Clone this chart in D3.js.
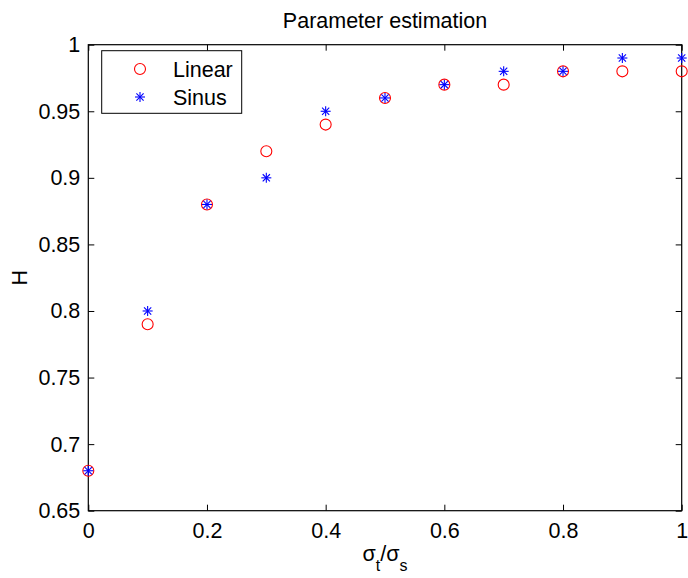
<!DOCTYPE html>
<html>
<head>
<meta charset="utf-8">
<script src="https://cdn.jsdelivr.net/npm/d3@7"></script>
<style>
  body { margin: 0; background: #fff; }
  text { font-family: "Liberation Sans", Arial, sans-serif; fill: #000; }
</style>
</head>
<body>
<div id="chart"></div>
<script>
// datos
var xVals = [0, 0.1, 0.2, 0.3, 0.4, 0.5, 0.6, 0.7, 0.8, 0.9, 1.0];
var linearVals = [0.68, 0.79, 0.88, 0.92, 0.94, 0.96, 0.97, 0.97, 0.98, 0.98, 0.98];
var sinusVals = [0.68, 0.80, 0.88, 0.90, 0.95, 0.96, 0.97, 0.98, 0.98, 0.99, 0.99];
var xTicks = [0, 0.2, 0.4, 0.6, 0.8, 1];
var yTicks = [0.65, 0.7, 0.75, 0.8, 0.85, 0.9, 0.95, 1];
var seriesNames = ["Linear", "Sinus"];

var w = 688, h = 578;
var mLeft = 88.3, mRight = 681.7, mTop = 44.7, mBottom = 510.7;
var fs = 21.5;

var svg = d3.select("#chart").append("svg")
    .attr("width", w)
    .attr("height", h);

var x = d3.scaleLinear().domain([0, 1]).range([mLeft, mRight]);
var y = d3.scaleLinear().domain([0.65, 1]).range([mBottom, mTop]);
var tickLen = 6;

// ejes (estilo matlab, ticks hacia dentro en los 4 lados)
function styleAxis(g) {
    g.select(".domain").remove();
    g.selectAll("line").attr("stroke", "#000").attr("stroke-width", 1);
    g.selectAll("text").style("font-size", fs + "px")
        .style("font-family", "Liberation Sans, Arial, sans-serif");
}

svg.append("g")
    .attr("transform", "translate(0," + mBottom + ")")
    .call(d3.axisBottom(x).tickValues(xTicks).tickSizeInner(-tickLen).tickSizeOuter(0)
        .tickPadding(12).tickFormat(d3.format("")))
    .call(styleAxis);

svg.append("g")
    .attr("transform", "translate(0," + mTop + ")")
    .call(d3.axisTop(x).tickValues(xTicks).tickSizeInner(-tickLen).tickSizeOuter(0).tickFormat(""))
    .call(styleAxis);

svg.append("g")
    .attr("transform", "translate(" + mLeft + ",0)")
    .call(d3.axisLeft(y).tickValues(yTicks).tickSizeInner(-tickLen).tickSizeOuter(0)
        .tickPadding(8).tickFormat(d3.format("")))
    .call(styleAxis);

svg.append("g")
    .attr("transform", "translate(" + mRight + ",0)")
    .call(d3.axisRight(y).tickValues(yTicks).tickSizeInner(-tickLen).tickSizeOuter(0).tickFormat(""))
    .call(styleAxis);

// caja
svg.append("rect")
    .attr("x", mLeft).attr("y", mTop)
    .attr("width", mRight - mLeft).attr("height", mBottom - mTop)
    .attr("fill", "none").attr("stroke", "#000").attr("stroke-width", 1.2);

// marcadores
function circleMark(g, cx, cy) {
    g.append("circle").attr("cx", cx).attr("cy", cy).attr("r", 5.5)
        .attr("fill", "none").attr("stroke", "#ff0000").attr("stroke-width", 1.1);
}
function starMark(g, cx, cy) {
    var r = 5, d = 3.6;
    var segs = [[-r, 0, r, 0], [0, -r, 0, r], [-d, -d, d, d], [-d, d, d, -d]];
    segs.forEach(function (s) {
        g.append("line")
            .attr("x1", cx + s[0]).attr("y1", cy + s[1])
            .attr("x2", cx + s[2]).attr("y2", cy + s[3])
            .attr("stroke", "#0000ff").attr("stroke-width", 1.1);
    });
}

var gPts = svg.append("g");
xVals.forEach(function (v, i) {
    circleMark(gPts, x(v), y(linearVals[i]));
});
xVals.forEach(function (v, i) {
    starMark(gPts, x(v), y(sinusVals[i]));
});

// título y etiquetas
svg.append("text")
    .attr("x", (mLeft + mRight) / 2).attr("y", 28)
    .attr("text-anchor", "middle")
    .style("font-size", fs + "px")
    .text("Parameter estimation");

var xl = svg.append("text")
    .attr("x", (mLeft + mRight) / 2).attr("y", 561)
    .attr("text-anchor", "middle")
    .style("font-size", fs + "px");
xl.append("tspan").text("σ");
xl.append("tspan").attr("dy", 10).style("font-size", "16px").text("t");
xl.append("tspan").attr("dy", -10).text("/σ");
xl.append("tspan").attr("dy", 10).style("font-size", "16px").text("s");

svg.append("text")
    .attr("transform", "translate(27," + ((mTop + mBottom) / 2) + ") rotate(-90)")
    .attr("text-anchor", "middle")
    .style("font-size", fs + "px")
    .text("H");

// leyenda
var lg = svg.append("g");
lg.append("rect")
    .attr("x", 101.7).attr("y", 50.7)
    .attr("width", 140).attr("height", 62.6)
    .attr("fill", "#fff").attr("stroke", "#000").attr("stroke-width", 1);
circleMark(lg, 140, 69);
starMark(lg, 140, 97);
seriesNames.forEach(function (n, i) {
    lg.append("text")
        .attr("x", 173).attr("y", 69 + i * 28)
        .attr("dy", "0.35em")
        .style("font-size", fs + "px")
        .text(n);
});
</script>
</body>
</html>
